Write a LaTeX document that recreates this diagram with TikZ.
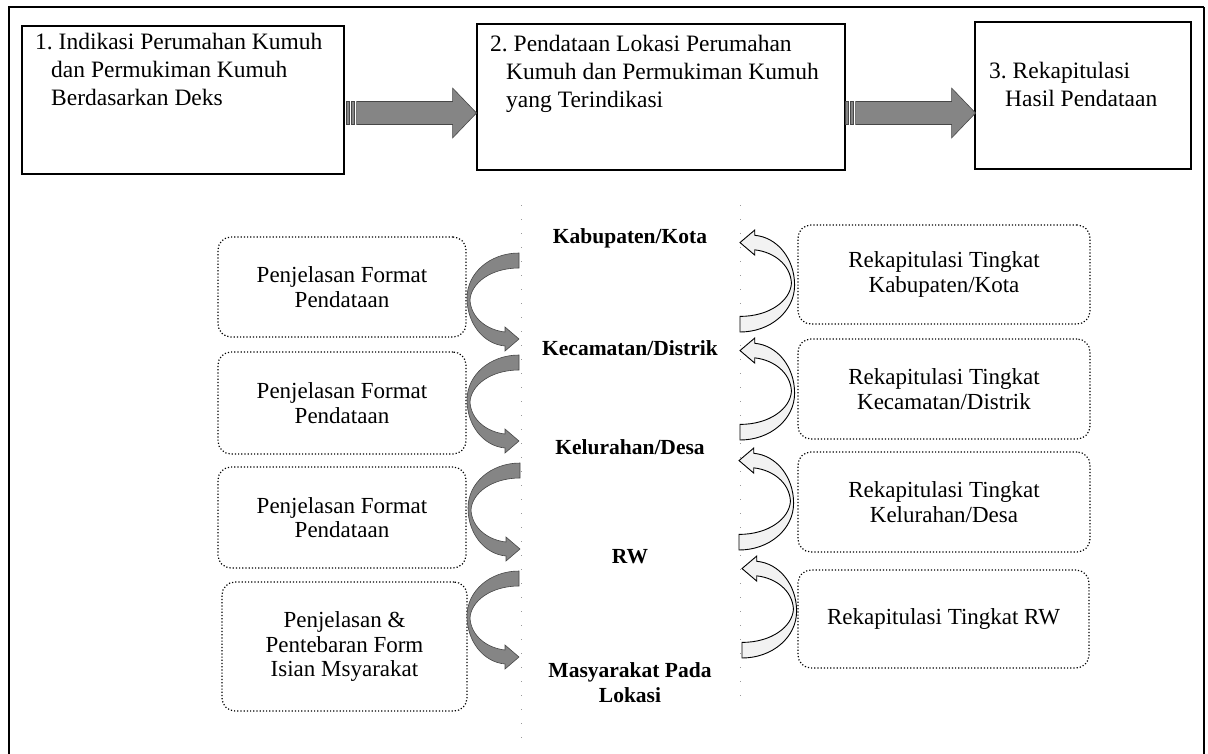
\documentclass[tikz,border=0pt]{standalone}
\usepackage{fontspec}
\setmainfont{Liberation Serif}
\usetikzlibrary{calc}
\begin{document}
\begin{tikzpicture}[x=1pt,y=-1pt,
  topbox/.style={draw, line width=1.1pt, inner sep=0pt},
  toptext/.style={anchor=north west, align=left, inner sep=0pt, font=\fontsize{23.5}{28}\selectfont},
  dotbox/.style={draw, dotted, line width=1.2pt, rounded corners=13pt, inner sep=0pt, align=center, font=\fontsize{23}{24.5}\selectfont},
  lvl/.style={align=center, inner sep=0pt, font=\bfseries\fontsize{21.5}{25}\selectfont},
  graytex/.style={fill=black!48, draw=black!72, line width=0.6pt},
  whitetex/.style={fill=black!5, draw=black, line width=0.9pt},
  guide/.style={draw=black!40, line width=0.9pt, dash pattern=on 1pt off 13pt},
  carrow/.pic={
    \path[pic actions] (0,0) .. controls (-29,0) and (-52,20) .. (-52,45)
      .. controls (-52,70) and (-36,91) .. (-14,93)
      -- (-14,98) -- (0,86) -- (-14,74) -- (-14,79)
      .. controls (-32,77) and (-48,65) .. (-49,47)
      .. controls (-48,30) and (-28,15) .. (0,15) -- cycle;
  },
  sarrow/.pic={
    \path[pic actions] (0,-11.5) rectangle (3,11.5);
    \path[pic actions] (5,-11.5) rectangle (8,11.5);
    \path[pic actions] (10,-11.5) -- (106,-11.5) -- (106,-25) -- (130,0)
      -- (106,25) -- (106,11.5) -- (10,11.5) -- cycle;
  }
]
\useasboundingbox (0,0) rectangle (1208,753);

% outer frame
\draw[line width=2.6pt] (9,760) -- (9,7) -- (1204,7);
\draw[line width=1.8pt] (1204,7) -- (1204,760);

% top boxes
\node[topbox, minimum width=322pt, minimum height=148pt] (b1) at (183,100) {};
\node[topbox, minimum width=368pt, minimum height=146pt] (b2) at (661,97) {};
\node[topbox, minimum width=216pt, minimum height=147pt] (b3) at (1083,95.5) {};

\node[toptext] (t1) at (35,33) {1.~Indikasi Perumahan Kumuh\\\hspace*{16pt}dan Permukiman Kumuh\\\hspace*{16pt}Berdasarkan Deks};
\node[toptext] (t2) at (490,35) {2.~Pendataan Lokasi Perumahan\\\hspace*{16pt}Kumuh dan Permukiman Kumuh\\\hspace*{16pt}yang Terindikasi};
\node[toptext] (t3) at (989,62) {3.~Rekapitulasi\\\hspace*{16pt}Hasil Pendataan};

% striped arrows
\pic[graytex] at ($(b1.east)+(2,13)$) {sarrow};
\pic[graytex] at ($(b2.east)+(0,16)$) {sarrow};

% guide dots
\path[guide] (521,205) -- (521,740);
\path[guide] (740,205) -- (740,700);

% left boxes
\node[dotbox, minimum width=248pt, minimum height=100pt] (l1) at (342,287) {Penjelasan Format\\Pendataan};
\node[dotbox, minimum width=248pt, minimum height=102pt] (l2) at (342,403) {Penjelasan Format\\Pendataan};
\node[dotbox, minimum width=248pt, minimum height=101pt] (l3) at (342,517.5) {Penjelasan Format\\Pendataan};
\node[dotbox, minimum width=245pt, minimum height=129pt] (l4) at (344.5,646.5) {Penjelasan \&\\Pentebaran Form\\Isian Msyarakat};

% right boxes
\node[dotbox, minimum width=292pt, minimum height=99pt] (r1) at (944,274.5) {Rekapitulasi Tingkat\\Kabupaten/Kota};
\node[dotbox, minimum width=292pt, minimum height=100pt] (r2) at (944,389) {Rekapitulasi Tingkat\\Kecamatan/Distrik};
\node[dotbox, minimum width=292pt, minimum height=100pt] (r3) at (944,502) {Rekapitulasi Tingkat\\Kelurahan/Desa};
\node[dotbox, minimum width=291pt, minimum height=98pt] (r4) at (943.5,619) {Rekapitulasi Tingkat RW};

% level labels
\node[lvl] (k1) at (630,238) {Kabupaten/Kota};
\node[lvl] (k2) at (630,348) {Kecamatan/Distrik};
\node[lvl] (k3) at (630,447) {Kelurahan/Desa};
\node[lvl] (k4) at (630,557) {RW};
\node[lvl] (k5) at (630,683) {Masyarakat Pada\\Lokasi};

% left curved arrows (downward)
\pic[graytex] at (519,253) {carrow};
\pic[graytex] at (519,355) {carrow};
\pic[graytex] at (520,463) {carrow};
\pic[graytex] at (519,571) {carrow};

% right curved arrows (upward)
\pic[whitetex, rotate=180, xscale=1.05, yscale=1.04] at (740,332) {carrow};
\pic[whitetex, rotate=180, xscale=1.05, yscale=1.04] at (740,440) {carrow};
\pic[whitetex, rotate=180, xscale=1.05, yscale=1.04] at (739,550) {carrow};
\pic[whitetex, rotate=180, xscale=1.05, yscale=1.04] at (742,658) {carrow};
\end{tikzpicture}
\end{document}
